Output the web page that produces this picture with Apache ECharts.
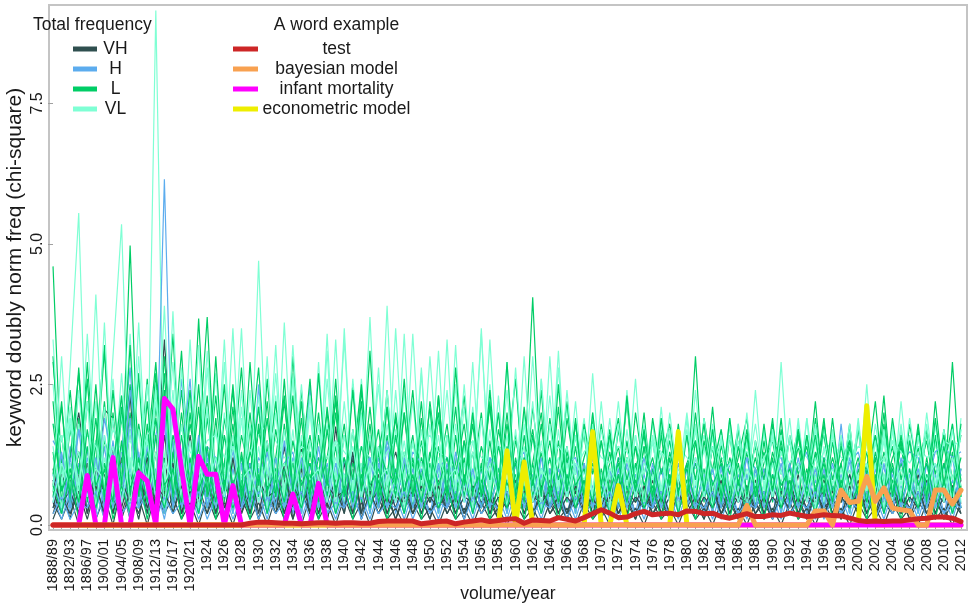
<!DOCTYPE html>
<html><head><meta charset="utf-8">
<script src="https://cdn.jsdelivr.net/npm/echarts@6/dist/echarts.min.js"></script>
<style>html,body{margin:0;padding:0;background:#fff}#c{width:973px;height:607px}</style>
</head><body><div id="c"></div>
<script>
const categories = ['1888/89','1890/91','1892/93','1894/95','1896/97','1898/99','1900/01','1902/03','1904/05','1906/07',
'1908/09','1910/11','1912/13','1914/15','1916/17','1918/19','1920/21','1922/23','1924','1925',
'1926','1927','1928','1929','1930','1931','1932','1933','1934','1935',
'1936','1937','1938','1939','1940','1941','1942','1943','1944','1945',
'1946','1947','1948','1949','1950','1951','1952','1953','1954','1955',
'1956','1957','1958','1959','1960','1961','1962','1963','1964','1965',
'1966','1967','1968','1969','1970','1971','1972','1973','1974','1975',
'1976','1977','1978','1979','1980','1981','1982','1983','1984','1985',
'1986','1987','1988','1989','1990','1991','1992','1993','1994','1995',
'1996','1997','1998','1999','2000','2001','2002','2003','2004','2005',
'2006','2007','2008','2009','2010','2011','2012'];
const yTicks = [0, 2.5, 5, 7.5];

// Total frequency groups (background keywords)
const vh1 = [0.6,0.2,1.2,2.0,0.9,0.5,2.05,1.9,0.6,2.3,
 0.3,1.1,0.8,3.3,0.9,0.4,1.6,0.3,1.1,0.2,
 0.9,0.3,0.8,0.2,0.7,1.5,0.3,1.4,0.4,1.35,
 0.2,0.8,0.3,1.75,0.4,0.9,0.2,1.5,0.3,0.8,
 1.3,0.6,0.3,0.7,0.2,0.6,0.3,0.7,0.2,0.5,
 0.3,0.6,0.2,0.5,0.3,0.7,0.2,0.6,0.3,0.5,
 0.2,0.6,0.3,0.5,0.2,0.6,0.3,0.7,0.2,0.5,
 0.3,0.6,0.2,0.5,0.3,0.6,0.2,0.7,0.3,0.6,
 0.2,0.5,0.3,0.6,0.2,0.5,0.3,0.9,0.2,0.6,
 0.3,0.5,0.2,0.6,0.3,0.9,0.2,0.5,0.3,0.6,
 0.2,0.9,0.3,0.6,0.2,0.5,0.3];
const vh2 = [0.2,0.7,0.1,0.9,0.2,0.8,0.1,1.0,0.2,0.7,
 0.1,0.9,0.3,1.2,0.2,0.8,0.1,0.7,0.2,0.9,
 0.1,0.6,0.2,0.8,0.1,0.7,0.2,0.6,0.1,0.8,
 0.2,0.6,0.1,0.7,0.2,1.0,0.1,0.6,0.2,0.6,
 0.1,0.5,0.2,0.5,0.1,0.6,0.2,0.5,0.1,0.6,
 0.2,0.4,0.1,0.5,0.2,0.4,0.1,0.6,0.2,0.4,
 0.1,0.5,0.2,0.4,0.1,0.5,0.2,0.4,0.1,0.5,
 0.2,0.4,0.1,0.5,0.2,0.4,0.1,0.6,0.2,0.4,
 0.1,0.5,0.2,0.4,0.1,0.6,0.2,0.4,0.1,0.5,
 0.2,0.4,0.1,0.5,0.2,0.6,0.1,0.4,0.2,0.5,
 0.1,0.4,0.2,0.5,0.1,0.4,0.2];
const vh3 = [0.4,0.1,0.5,0.0,0.6,0.1,0.5,0.0,0.7,0.1,
 0.5,0.0,0.6,0.2,0.5,0.1,0.4,0.0,0.5,0.1,
 0.4,0.0,0.5,0.1,0.4,0.0,0.5,0.1,0.4,0.0,
 0.5,0.1,0.4,0.0,0.5,0.1,0.4,0.0,0.5,0.1,
 0.3,0.0,0.4,0.1,0.3,0.0,0.4,0.1,0.3,0.0,
 0.4,0.1,0.3,0.0,0.4,0.1,0.3,0.0,0.4,0.1,
 0.3,0.0,0.4,0.1,0.3,0.0,0.4,0.1,0.3,0.0,
 0.4,0.1,0.3,0.0,0.4,0.1,0.3,0.0,0.4,0.1,
 0.3,0.0,0.4,0.1,0.3,0.0,0.4,0.1,0.3,0.0,
 0.4,0.1,0.3,0.0,0.4,0.1,0.3,0.0,0.4,0.1,
 0.3,0.0,0.4,0.1,0.3,0.0,0.4];
const vh4 = [1.0,0.3,0.8,0.2,1.1,0.3,0.9,0.2,1.2,0.4,
 0.9,0.2,1.3,0.4,1.0,0.2,0.9,0.3,0.8,0.2,
 1.0,0.3,0.9,0.2,0.8,0.3,1.0,0.2,0.9,0.3,
 0.8,0.2,0.9,0.3,1.1,0.2,0.8,0.3,0.9,0.2,
 0.7,0.3,0.8,0.2,0.7,0.3,0.8,0.2,0.7,0.3,
 0.8,0.2,0.7,0.3,0.8,0.2,0.7,0.3,0.8,0.2,
 0.7,0.3,0.8,0.2,0.7,0.3,0.9,0.2,0.7,0.3,
 0.8,0.2,0.7,0.3,0.8,0.2,0.7,0.3,0.8,0.2,
 0.7,0.3,0.8,0.2,0.7,0.3,0.8,0.2,0.7,0.3,
 0.8,0.2,0.7,0.3,0.8,0.2,0.7,0.3,0.8,0.2,
 0.7,0.3,0.8,0.2,0.7,0.3,0.8];
const vh5 = [0.3,0.9,0.5,1.3,0.2,1.0,0.6,1.4,0.3,0.9,
 0.5,1.2,0.3,1.6,0.4,1.1,0.2,0.9,0.5,1.0,
 0.3,0.8,0.4,1.1,0.2,0.9,0.4,0.8,0.3,1.0,
 0.2,0.9,0.4,0.8,0.3,1.2,0.2,0.8,0.4,0.7,
 0.3,0.8,0.2,0.7,0.4,0.8,0.3,0.6,0.2,0.7,
 0.4,0.6,0.3,0.8,0.2,0.6,0.4,0.7,0.3,0.6,
 0.2,0.7,0.4,0.6,0.3,0.8,0.2,0.6,0.4,0.7,
 0.3,0.6,0.2,0.8,0.4,0.6,0.3,0.7,0.2,0.6,
 0.4,0.7,0.3,0.6,0.2,0.8,0.4,0.6,0.3,0.7,
 0.2,0.6,0.4,0.9,0.3,0.6,0.2,0.7,0.4,0.6,
 0.3,0.7,0.2,0.6,0.4,0.7,0.3];
const vh6 = [0.8,0.4,0.6,0.2,0.9,0.5,0.7,0.2,0.8,0.4,
 1.0,0.3,0.7,0.5,1.1,0.2,0.6,0.4,0.8,0.2,
 0.7,0.4,0.6,0.2,0.8,0.5,0.6,0.2,0.7,0.4,
 0.6,0.2,0.7,0.5,0.6,0.2,0.8,0.4,0.6,0.2,
 0.5,0.4,0.6,0.2,0.5,0.3,0.6,0.2,0.5,0.4,
 0.6,0.2,0.5,0.3,0.6,0.2,0.5,0.4,0.6,0.2,
 0.5,0.3,0.6,0.2,0.5,0.4,0.6,0.2,0.5,0.3,
 0.6,0.2,0.5,0.4,0.6,0.2,0.5,0.3,0.6,0.2,
 0.5,0.4,0.6,0.2,0.5,0.3,0.6,0.2,0.5,0.4,
 0.6,0.2,0.5,0.3,0.6,0.2,0.5,0.4,0.6,0.2,
 0.5,0.3,0.6,0.2,0.5,0.4,0.6];
const vh7 = [0.1,0.5,0.2,0.6,0.1,0.7,0.2,0.5,0.1,0.6,
 0.2,0.8,0.1,0.6,0.2,0.7,0.1,0.5,0.2,0.6,
 0.1,1.2,0.2,0.6,0.1,0.5,0.2,1.1,0.1,0.6,
 0.2,0.5,0.1,0.7,0.2,1.3,0.1,0.6,0.2,0.5,
 0.1,0.6,0.2,0.5,0.1,0.7,0.2,0.5,0.1,0.6,
 0.2,0.5,0.1,0.6,0.2,0.5,0.1,0.7,0.2,0.5,
 0.1,0.6,0.2,0.5,0.1,0.6,0.2,0.5,0.1,0.7,
 0.2,0.5,0.1,0.6,0.2,0.5,0.1,0.6,0.2,0.5,
 0.1,0.7,0.2,0.5,0.1,0.6,0.2,0.5,0.1,0.6,
 0.2,0.5,0.1,0.7,0.2,0.5,0.1,0.6,0.2,0.5,
 0.1,0.6,0.2,0.5,0.1,0.7,0.2];

const h1 = [0.8,0.3,1.4,0.4,1.2,0.3,1.6,0.5,1.3,2.8,
 0.4,1.5,0.6,6.15,0.5,1.2,2.6,0.4,1.3,0.3,
 1.1,0.4,1.2,0.3,2.5,0.4,1.0,0.3,1.2,0.4,
 2.5,0.3,1.1,0.4,0.9,0.3,1.0,0.4,1.2,0.3,
 0.9,0.4,1.1,0.3,0.9,0.4,1.0,0.3,0.8,0.4,
 1.0,0.3,0.9,0.4,1.1,0.3,0.9,0.4,1.0,0.3,
 0.9,0.4,1.0,0.3,0.8,0.4,1.0,0.3,0.9,0.4,
 1.0,0.3,0.9,0.4,1.1,0.3,0.9,0.4,1.0,0.3,
 0.9,0.4,1.0,0.3,0.9,0.4,1.1,0.3,0.9,0.4,
 1.0,0.3,1.8,0.4,0.9,0.3,1.0,0.4,0.9,0.3,
 1.0,0.4,0.9,0.3,1.1,0.4,0.9];
const h2 = [0.3,0.9,0.2,1.1,0.3,1.0,0.2,1.3,0.4,1.0,
 0.3,1.2,0.5,1.8,0.3,0.9,0.2,1.1,0.3,0.8,
 0.2,1.0,0.3,0.9,0.2,0.8,0.3,1.0,0.2,0.9,
 0.3,1.0,0.2,0.8,0.3,0.9,0.2,0.8,0.3,1.4,
 0.2,0.8,0.3,0.7,0.2,0.9,0.3,0.7,0.2,0.8,
 0.3,0.7,0.2,0.8,0.3,0.7,0.2,0.9,0.3,0.7,
 0.2,0.8,0.3,0.7,0.2,0.8,0.3,0.7,0.2,0.9,
 0.3,0.7,0.2,0.8,0.3,0.7,0.2,0.8,0.3,0.7,
 0.2,0.9,0.3,0.7,0.2,0.8,0.3,0.7,0.2,0.8,
 0.3,0.7,0.2,0.9,0.3,1.6,0.2,0.8,0.3,0.7,
 0.2,0.8,0.3,0.9,0.2,0.8,0.3];
const h3 = [0.5,0.1,0.6,0.2,0.7,0.1,0.6,0.2,0.8,0.1,
 0.6,0.2,0.7,0.1,0.9,0.2,0.6,0.1,0.5,0.2,
 0.6,0.1,0.5,0.2,0.6,0.1,0.7,0.2,0.5,0.1,
 0.6,0.2,0.5,0.1,0.6,0.2,0.5,0.1,0.6,0.2,
 0.5,0.1,0.6,0.2,0.5,0.1,0.6,0.2,0.5,0.1,
 0.6,0.2,0.5,0.1,0.6,0.2,0.5,0.1,0.6,0.2,
 0.5,0.1,0.6,0.2,0.5,0.1,0.6,0.2,0.5,0.1,
 0.6,0.2,0.5,0.1,0.6,0.2,0.5,0.1,0.6,0.2,
 0.5,0.1,0.6,0.2,0.5,0.1,0.6,0.2,0.5,0.1,
 0.6,0.2,0.5,0.1,0.6,0.2,0.5,0.1,0.6,0.2,
 0.5,0.1,0.6,0.2,0.5,0.1,0.6];
const h4 = [1.5,1.2,0.6,1.7,1.3,0.5,1.9,1.1,0.7,2.4,
 1.2,0.6,1.6,2.2,0.8,2.6,1.0,0.5,1.4,1.2,
 0.6,1.3,1.0,0.5,1.2,0.9,0.6,1.1,1.3,0.5,
 1.0,1.2,0.6,1.1,0.9,0.5,1.0,1.2,0.6,1.5,
 0.9,0.6,1.3,1.1,0.5,1.0,1.2,0.7,1.1,0.9,
 0.6,1.2,1.0,0.5,1.1,1.3,0.6,1.0,0.9,0.5,
 1.1,1.2,0.6,1.0,0.9,0.5,1.2,1.0,0.6,1.1,
 0.9,0.5,1.0,1.2,0.6,1.1,0.9,0.5,1.0,1.1,
 0.6,1.2,1.0,0.5,1.1,1.2,0.6,1.0,1.3,0.5,
 1.2,1.0,0.6,1.1,1.3,0.7,1.2,1.0,0.6,1.1,
 1.3,1.2,0.7,1.3,1.4,1.2,1.3];
const h5 = [0.9,0.2,1.2,0.3,1.0,0.2,1.4,0.3,1.1,0.2,
 1.3,0.3,1.0,0.2,1.5,0.3,1.1,0.2,1.2,0.3,
 0.9,0.2,1.1,0.3,1.0,0.2,1.2,0.3,0.9,0.2,
 1.1,0.3,1.0,0.2,1.2,0.3,0.9,0.2,1.1,0.3,
 0.8,0.2,1.0,0.3,0.9,0.2,1.1,0.3,0.8,0.2,
 1.0,0.3,0.9,0.2,1.1,0.3,0.8,0.2,1.0,0.3,
 0.9,0.2,1.1,0.3,0.8,0.2,1.0,0.3,0.9,0.2,
 1.1,0.3,0.8,0.2,1.0,0.3,0.9,0.2,1.1,0.3,
 0.8,0.2,1.0,0.3,0.9,0.2,1.1,0.3,0.8,0.2,
 1.0,0.3,0.9,0.2,1.1,0.3,0.8,0.2,1.0,0.3,
 0.9,0.2,1.1,0.3,0.8,0.2,1.0];
const h6 = [0.4,1.3,0.3,1.7,0.5,1.2,0.3,1.5,0.4,1.9,
 0.3,1.4,0.5,2.0,0.3,1.3,0.4,1.6,0.3,1.2,
 0.5,1.4,0.3,1.1,0.4,1.3,0.3,1.5,0.5,1.2,
 0.3,1.4,0.4,1.1,0.3,1.3,0.5,1.2,0.3,1.0,
 0.4,1.2,0.3,1.0,0.5,1.1,0.3,1.3,0.4,1.0,
 0.3,1.2,0.5,1.0,0.3,1.1,0.4,1.2,0.3,1.0,
 0.5,1.1,0.3,1.2,0.4,1.0,0.3,1.1,0.5,1.2,
 0.3,1.0,0.4,1.1,0.3,1.2,0.5,1.0,0.3,1.1,
 0.4,1.2,0.3,1.0,0.5,1.1,0.3,1.2,0.4,1.0,
 0.3,1.1,0.5,1.2,0.3,1.0,0.4,1.1,0.3,1.2,
 0.5,1.0,0.3,1.1,0.4,1.2,0.3];
const h7 = [0.2,0.5,0.1,0.4,0.3,0.6,0.1,0.5,0.2,0.4,
 0.3,0.6,0.1,0.5,0.2,0.4,0.3,0.6,0.1,0.5,
 0.2,0.4,0.3,0.6,0.1,0.5,0.2,0.4,0.3,0.6,
 0.1,0.5,0.2,0.4,0.3,0.6,0.1,0.5,0.2,0.4,
 0.3,0.6,0.1,0.5,0.2,0.4,0.3,0.6,0.1,0.5,
 0.2,0.4,0.3,0.6,0.1,0.5,0.2,0.4,0.3,0.6,
 0.1,0.5,0.2,0.4,0.3,0.6,0.1,0.5,0.2,0.4,
 0.3,0.6,0.1,0.5,0.2,0.4,0.3,0.6,0.1,0.5,
 0.2,0.4,0.3,0.6,0.1,0.5,0.2,0.4,0.3,0.6,
 0.1,0.5,0.2,0.4,0.3,0.6,0.1,0.5,0.2,0.4,
 0.3,0.6,0.1,0.5,0.2,0.4,0.3];

const l1 = [4.6,0.8,2.4,0.6,2.9,0.7,2.2,0.5,0.7,4.97,
 0.8,2.6,0.6,3.0,0.9,2.4,0.7,3.67,0.8,2.3,
 0.6,2.5,0.7,2.0,0.5,2.6,0.8,2.2,0.6,2.4,
 0.7,2.0,0.5,2.3,0.6,2.5,0.7,2.1,0.6,2.4,
 0.5,2.0,0.6,2.2,0.5,1.9,0.7,2.1,0.5,2.0,
 0.6,2.2,0.5,1.8,0.6,0.9,4.05,0.7,0.6,2.1,
 0.5,1.6,0.6,1.9,0.5,1.5,0.6,2.2,0.5,1.4,
 0.6,1.7,0.5,1.5,0.6,3.0,0.5,1.4,0.6,1.8,
 0.5,1.5,0.6,1.3,0.5,1.7,0.6,1.4,0.5,1.9,
 0.6,1.5,0.5,1.6,0.6,1.3,0.5,1.8,0.6,1.4,
 0.5,1.6,0.6,1.5,0.5,2.9,0.6];
const l2 = [2.9,1.1,1.8,0.4,2.2,1.0,3.1,0.5,1.9,0.9,
 2.7,0.4,2.1,1.0,3.4,0.6,1.8,0.9,2.3,0.4,
 1.9,1.0,2.8,0.5,1.7,0.8,2.2,0.4,3.0,0.9,
 1.6,0.5,2.1,0.8,1.8,0.4,2.4,0.9,1.7,0.5,
 2.0,0.8,1.6,0.4,2.2,0.9,1.8,0.5,1.5,0.8,
 2.0,0.4,1.7,0.9,1.6,0.5,2.1,0.8,1.5,0.4,
 1.9,0.9,1.6,0.5,1.8,0.8,1.4,0.4,2.0,0.9,
 1.5,0.5,1.7,0.8,1.6,0.4,1.9,0.9,1.5,0.5,
 1.7,0.8,1.4,0.4,1.8,0.9,1.5,0.5,1.6,0.8,
 1.9,0.4,1.5,0.9,1.7,0.5,1.6,0.8,1.4,0.4,
 1.8,0.9,1.5,0.5,1.7,0.8,1.6];
const l3 = [0.5,1.6,0.3,1.9,0.4,1.5,0.3,2.0,0.5,1.7,
 0.3,1.8,0.4,2.2,0.3,1.6,0.5,1.4,0.3,1.9,
 0.4,1.5,0.3,1.7,0.5,1.4,0.3,1.8,0.4,1.5,
 0.3,1.6,0.5,1.4,0.3,1.7,0.4,1.5,0.3,1.6,
 0.5,1.3,0.3,1.5,0.4,1.4,0.3,1.6,0.5,1.3,
 0.3,1.5,0.4,1.4,0.3,1.6,0.5,1.3,0.3,1.5,
 0.4,1.4,0.3,1.6,0.5,1.3,0.3,1.5,0.4,1.4,
 0.3,1.6,0.5,1.3,0.3,1.5,0.4,1.4,0.3,1.6,
 0.5,1.3,0.3,1.5,0.4,1.4,0.3,1.6,0.5,1.3,
 0.3,1.5,0.4,1.4,0.3,1.6,0.5,1.3,0.3,1.5,
 0.4,1.4,0.3,1.6,0.5,1.3,0.3];
const l4 = [3.0,0.6,1.2,2.7,0.5,1.4,3.2,0.6,1.1,2.5,
 0.5,1.3,2.9,0.6,1.2,3.1,0.5,1.4,3.7,0.6,
 1.1,2.4,0.5,1.3,2.8,0.6,1.2,2.3,0.5,1.0,
 2.6,0.6,1.2,2.2,0.5,1.1,2.5,0.6,1.3,2.1,
 0.5,1.0,2.4,0.6,1.2,2.0,0.5,1.1,2.3,0.6,
 1.0,2.1,0.5,1.2,2.6,0.6,1.1,2.0,0.5,1.0,
 2.2,0.6,1.2,1.7,0.5,1.1,1.9,0.6,1.0,1.6,
 0.5,1.2,1.8,0.6,1.1,1.5,0.5,1.0,1.7,0.6,
 1.2,1.9,0.5,1.1,1.5,0.6,1.0,1.7,0.5,1.2,
 1.6,0.6,1.1,1.5,0.5,1.0,2.2,0.6,1.2,1.5,
 0.5,1.1,1.7,0.6,1.0,1.8,0.5];
const l5 = [1.3,0.2,1.0,0.3,1.4,0.2,1.1,0.3,1.5,0.2,
 1.2,0.3,1.6,0.2,1.3,0.3,1.2,0.2,1.4,0.3,
 1.1,0.2,1.3,0.3,1.0,0.2,1.2,0.3,1.1,0.2,
 1.3,0.3,1.0,0.2,1.2,0.3,1.1,0.2,1.3,0.3,
 1.0,0.2,1.2,0.3,1.1,0.2,1.0,0.3,1.2,0.2,
 1.1,0.3,1.0,0.2,1.2,0.3,1.1,0.2,1.0,0.3,
 1.2,0.2,1.1,0.3,1.0,0.2,1.2,0.3,1.1,0.2,
 1.0,0.3,1.2,0.2,1.1,0.3,1.0,0.2,1.2,0.3,
 1.1,0.2,1.0,0.3,1.2,0.2,1.1,0.3,1.0,0.2,
 1.2,0.3,1.1,0.2,1.0,0.3,1.2,0.2,1.1,0.3,
 1.0,0.2,1.2,0.3,1.1,0.2,1.0];
const l6 = [0.7,2.2,0.4,1.3,0.6,2.5,0.4,1.2,0.7,2.0,
 0.5,1.3,0.6,2.4,0.4,1.1,0.7,2.1,0.5,1.2,
 0.6,1.8,0.4,1.3,0.7,2.2,0.5,1.0,0.6,1.9,
 0.4,1.2,0.7,2.6,0.5,1.1,0.6,1.8,0.4,1.0,
 0.7,2.0,0.5,1.2,0.6,2.3,0.4,1.0,0.7,1.8,
 0.5,1.1,0.6,2.0,0.4,1.2,0.7,2.4,0.5,1.0,
 0.6,1.9,0.4,1.1,0.7,1.7,0.5,1.2,0.6,2.0,
 0.4,1.0,0.7,1.8,0.5,1.1,0.6,2.1,0.4,1.2,
 0.7,1.7,0.5,1.0,0.6,1.9,0.4,1.1,0.7,2.2,
 0.5,1.2,0.6,1.8,0.4,1.0,0.7,2.3,0.5,1.1,
 0.6,1.7,0.4,2.2,0.7,1.5,0.8];
const l7 = [2.2,0.4,1.7,0.9,2.6,0.4,1.5,1.0,2.3,0.5,
 1.8,0.9,2.7,0.4,1.6,1.0,2.4,0.5,1.9,0.8,
 2.5,0.4,1.6,0.9,2.1,0.5,1.7,0.8,2.3,0.4,
 1.5,0.9,2.0,0.5,1.6,0.8,2.2,0.4,1.4,0.9,
 1.9,0.5,1.5,0.8,2.1,0.4,1.6,0.9,1.8,0.5,
 1.4,0.8,2.0,0.4,1.5,0.9,1.7,0.5,1.9,0.8,
 1.4,0.4,1.8,0.9,1.5,0.5,1.7,0.8,1.4,0.4,
 1.9,0.9,1.5,0.5,1.6,0.8,1.8,0.4,1.4,0.9,
 1.7,0.5,1.5,0.8,1.9,0.4,1.6,0.9,1.4,0.5,
 1.8,0.8,1.5,0.4,1.7,0.9,1.6,0.5,1.9,0.8,
 1.5,0.4,1.7,0.9,1.6,0.5,1.8];
const l8 = [1.8,0.6,1.0,0.4,1.7,0.7,1.1,0.4,2.1,0.6,
 1.2,0.4,1.9,0.7,1.0,0.4,2.0,0.6,1.1,0.4,
 1.6,0.7,1.2,0.4,1.8,0.6,1.0,0.4,1.5,0.7,
 1.1,0.4,1.7,0.6,1.2,0.4,1.4,0.7,1.0,0.4,
 1.6,0.6,1.1,0.4,1.3,0.7,1.2,0.4,1.5,0.6,
 1.0,0.4,1.4,0.7,1.1,0.4,1.6,0.6,1.2,0.4,
 1.3,0.7,1.0,0.4,1.5,0.6,1.1,0.4,1.4,0.7,
 1.2,0.4,1.3,0.6,1.0,0.4,1.5,0.7,1.1,0.4,
 1.4,0.6,1.2,0.4,1.3,0.7,1.0,0.4,1.6,0.6,
 1.1,0.4,1.4,0.7,1.2,0.4,1.3,0.6,1.0,0.4,
 1.5,0.7,1.1,0.4,1.4,0.6,1.2];
const l9 = [0.7,0.2,0.9,0.1,0.8,0.3,1.0,0.1,0.7,0.2,
 0.9,0.1,0.8,0.3,1.0,0.1,0.7,0.2,0.9,0.1,
 0.8,0.3,0.7,0.1,0.9,0.2,0.8,0.1,0.7,0.3,
 0.9,0.1,0.8,0.2,0.7,0.1,0.9,0.3,0.8,0.1,
 0.7,0.2,0.9,0.1,0.8,0.3,0.7,0.1,0.9,0.2,
 0.8,0.1,0.7,0.3,0.9,0.1,0.8,0.2,0.7,0.1,
 0.9,0.3,0.8,0.1,0.7,0.2,0.9,0.1,0.8,0.3,
 0.7,0.1,0.9,0.2,0.8,0.1,0.7,0.3,0.9,0.1,
 0.8,0.2,0.7,0.1,0.9,0.3,0.8,0.1,0.7,0.2,
 0.9,0.1,0.8,0.3,0.7,0.1,0.9,0.2,0.8,0.1,
 0.7,0.3,0.9,0.1,0.8,0.2,0.7];
const l10 = [0.9,2.1,0.5,2.8,0.6,1.9,0.5,2.4,0.7,3.2,
 0.5,2.2,0.6,2.7,0.5,2.0,0.7,2.5,0.5,3.0,
 0.6,2.1,0.5,2.9,0.7,1.9,0.5,2.6,0.6,2.2,
 0.5,2.7,0.7,2.0,0.5,2.4,0.6,3.1,0.5,2.1,
 0.7,2.6,0.5,1.9,0.6,2.3,0.5,2.8,0.7,2.0,
 0.5,2.4,0.6,2.9,0.5,2.1,0.7,1.8,0.5,2.5,
 0.6,1.8,0.5,2.0,0.7,1.6,0.5,2.3,0.6,1.7,
 0.5,1.9,0.7,1.5,0.5,2.0,0.6,1.7,0.5,1.9,
 0.7,1.6,0.5,1.8,0.6,1.5,0.5,1.7,0.7,1.6,
 0.5,1.9,0.6,1.5,0.5,1.7,0.7,2.0,0.5,1.6,
 0.6,1.8,0.5,1.9,0.7,1.5,0.5];

const vl1 = [1.2,0.4,2.8,5.55,0.5,2.2,0.6,3.0,5.35,0.7,
 2.6,0.5,9.15,0.6,2.4,0.5,3.3,0.6,2.0,0.5,
 2.9,0.6,2.1,0.5,4.7,0.6,2.3,0.5,2.7,0.6,
 2.0,0.5,3.4,0.6,2.2,0.5,2.6,0.6,0.6,3.9,
 0.5,2.4,0.6,2.8,0.5,2.0,0.6,3.2,0.5,2.1,
 0.6,2.5,0.5,2.9,0.6,2.0,0.5,2.6,0.6,3.1,
 0.5,1.8,0.6,2.0,0.5,1.6,0.6,2.3,0.5,1.7,
 0.6,1.9,0.5,1.5,0.6,1.8,0.5,1.6,0.6,1.9,
 0.5,1.5,0.6,1.7,0.5,2.9,0.6,1.6,0.5,1.8,
 0.6,1.5,0.5,1.7,0.6,2.5,0.5,1.6,0.6,1.8,
 0.5,1.7,0.6,1.5,0.5,1.8,0.6];
const vl2 = [2.5,0.8,1.9,0.7,3.4,0.9,2.1,0.6,2.7,0.8,
 3.6,0.7,2.2,0.9,2.9,0.6,2.4,0.8,3.1,0.7,
 2.0,0.9,3.5,0.6,2.3,0.8,2.7,0.7,3.2,0.9,
 2.1,0.6,2.6,0.8,3.3,0.7,2.0,0.9,2.5,0.6,
 3.5,0.8,2.2,0.7,3.0,0.9,2.4,0.6,2.1,0.8,
 3.4,0.7,2.0,0.9,2.6,0.6,3.0,0.8,2.3,0.7,
 2.1,0.9,1.9,0.6,1.7,0.8,2.2,0.7,1.6,0.9,
 1.8,0.6,1.5,0.8,2.0,0.7,1.6,0.9,1.7,0.6,
 1.5,0.8,1.8,0.7,1.6,0.9,1.5,0.6,1.9,0.8,
 1.6,0.7,1.5,0.9,1.7,0.6,1.8,0.8,1.5,0.7,
 1.9,0.9,1.6,0.6,1.5,0.8,1.7];
const vl3 = [0.6,1.6,0.4,1.8,0.5,1.5,0.4,1.9,0.6,1.7,
 0.4,1.6,0.5,2.1,0.4,1.8,0.6,1.5,0.4,1.7,
 0.5,1.6,0.4,1.8,0.6,1.5,0.4,1.7,0.5,1.6,
 0.4,1.8,0.6,1.5,0.4,1.7,0.5,1.6,0.4,1.8,
 0.6,1.5,0.4,1.7,0.5,1.6,0.4,1.8,0.6,1.5,
 0.4,1.7,0.5,1.6,0.4,1.8,0.6,1.5,0.4,1.7,
 0.5,1.6,0.4,1.8,0.6,1.5,0.4,1.7,0.5,1.6,
 0.4,1.8,0.6,1.5,0.4,1.7,0.5,1.6,0.4,1.8,
 0.6,1.5,0.4,1.7,0.5,1.6,0.4,1.8,0.6,1.5,
 0.4,1.7,0.5,1.6,0.4,1.8,0.6,1.5,0.4,1.7,
 0.5,1.6,0.4,1.8,0.6,1.5,0.4];
const vl4 = [1.8,1.5,1.9,1.2,1.6,1.4,1.0,1.7,1.3,1.5,
 1.1,1.6,1.8,1.2,1.4,1.7,1.3,1.1,1.5,1.6,
 1.2,1.4,1.0,1.3,1.6,1.8,1.5,1.2,1.1,1.4,
 1.3,1.0,1.2,1.5,1.3,1.1,1.4,1.2,1.0,1.3,
 1.5,1.2,1.1,1.4,1.6,1.3,1.2,1.0,1.3,1.5,
 1.2,1.1,1.4,1.3,1.0,1.2,1.5,1.3,1.1,1.4,
 1.2,1.0,1.3,1.5,1.2,1.1,1.4,1.3,1.0,1.2,
 1.5,1.3,1.1,1.4,1.2,1.0,1.3,1.5,1.2,1.1,
 1.4,1.3,1.0,1.2,1.5,1.3,1.1,1.4,1.2,1.0,
 1.3,1.5,1.2,1.1,1.4,1.3,1.0,1.2,1.5,1.3,
 1.1,1.4,1.2,1.3,1.5,1.4,1.5];
const vl5 = [0.9,0.2,1.1,0.3,1.0,0.2,1.2,0.3,0.9,0.2,
 1.1,0.3,1.3,0.2,1.0,0.3,0.9,0.2,1.1,0.3,
 1.0,0.2,0.9,0.3,1.1,0.2,1.0,0.3,0.9,0.2,
 1.1,0.3,1.0,0.2,0.9,0.3,1.1,0.2,1.0,0.3,
 0.9,0.2,1.1,0.3,1.0,0.2,0.9,0.3,1.1,0.2,
 1.0,0.3,0.9,0.2,1.1,0.3,1.0,0.2,0.9,0.3,
 1.1,0.2,1.0,0.3,0.9,0.2,1.1,0.3,1.0,0.2,
 0.9,0.3,1.1,0.2,1.0,0.3,0.9,0.2,1.1,0.3,
 1.0,0.2,0.9,0.3,1.1,0.2,1.0,0.3,0.9,0.2,
 1.1,0.3,1.0,0.2,0.9,0.3,1.1,0.2,1.0,0.3,
 0.9,0.2,1.1,0.3,1.0,0.2,0.9];
const vl6 = [3.3,0.7,2.1,0.5,2.6,0.6,3.6,0.5,2.3,0.7,
 3.0,0.6,2.5,0.7,3.8,0.5,2.2,0.6,2.8,0.7,
 3.3,0.5,2.4,0.6,2.1,0.7,3.2,0.5,2.6,0.6,
 2.3,0.7,3.1,0.5,3.5,0.6,2.2,0.7,2.8,0.5,
 2.4,0.6,3.4,0.7,2.1,0.5,3.3,0.6,2.5,0.7,
 3.5,0.5,2.3,0.6,2.8,0.7,2.2,0.5,3.0,0.6,
 2.4,0.7,1.8,0.5,2.2,0.6,1.7,0.7,2.6,0.5,
 1.6,0.6,2.0,0.7,1.7,0.5,1.9,0.6,1.5,0.7,
 1.8,0.5,2.4,0.6,1.6,0.7,1.9,0.5,1.5,0.6,
 1.7,0.7,1.6,0.5,1.9,0.6,1.5,0.7,1.8,0.5,
 1.6,0.6,2.0,0.7,1.7,0.5,1.9];
const vl7 = [1.4,0.3,1.8,0.4,2.2,0.3,1.6,0.4,2.0,0.3,
 1.7,0.4,2.4,0.3,1.9,0.4,1.5,0.3,2.1,0.4,
 1.6,0.3,1.9,0.4,1.4,0.3,2.0,0.4,1.7,0.3,
 1.5,0.4,1.8,0.3,1.6,0.4,1.9,0.3,1.4,0.4,
 1.7,0.3,1.5,0.4,1.8,0.3,1.6,0.4,1.4,0.3,
 1.9,0.4,1.5,0.3,1.7,0.4,1.6,0.3,1.8,0.4,
 1.4,0.3,1.7,0.4,1.5,0.3,1.8,0.4,1.6,0.3,
 1.5,0.4,1.7,0.3,1.9,0.4,1.4,0.3,1.6,0.4,
 1.8,0.3,1.5,0.4,1.7,0.3,1.6,0.4,1.9,0.3,
 1.4,0.4,1.6,0.3,1.8,0.4,1.5,0.3,1.7,0.4,
 1.6,0.3,1.8,0.4,1.5,0.3,1.7];
const vl8 = [0.6,3.0,0.5,2.4,0.7,4.1,0.5,2.6,0.6,3.4,
 0.5,2.5,0.7,3.9,0.5,2.8,0.6,3.2,0.5,2.7,
 0.7,3.5,0.5,2.4,0.6,3.0,0.5,3.6,0.7,2.5,
 0.5,2.9,0.6,3.3,0.5,2.6,0.7,3.7,0.5,2.4,
 0.6,3.4,0.5,2.7,0.7,3.1,0.5,2.5,0.6,2.9,
 0.5,3.3,0.7,2.4,0.5,3.0,0.6,2.6,0.5,2.8,
 0.7,2.2,0.5,2.7,0.6,1.9,0.5,2.4,0.7,1.8,
 0.5,2.1,0.6,1.7,0.5,2.4,0.7,1.8,0.5,1.6,
 0.6,2.0,0.5,1.7,0.7,1.6,0.5,1.9,0.6,1.7,
 0.5,1.6,0.7,1.8,0.5,1.5,0.6,1.7,0.5,2.2,
 0.7,1.6,0.5,1.8,0.6,1.7,0.5];
const vl9 = [0.4,1.1,0.7,1.3,0.5,1.0,0.8,1.4,0.4,1.2,
 0.7,1.5,0.5,1.1,0.8,1.3,0.4,1.0,0.7,1.2,
 0.5,1.4,0.8,1.0,0.4,1.2,0.7,1.1,0.5,1.3,
 0.8,1.0,0.4,1.2,0.7,1.4,0.5,1.1,0.8,1.0,
 0.4,1.3,0.7,1.1,0.5,1.2,0.8,1.0,0.4,1.3,
 0.7,1.1,0.5,1.2,0.8,1.4,0.4,1.0,0.7,1.2,
 0.5,1.1,0.8,1.3,0.4,1.0,0.7,1.2,0.5,1.1,
 0.8,1.3,0.4,1.0,0.7,1.2,0.5,1.4,0.8,1.1,
 0.4,1.0,0.7,1.2,0.5,1.3,0.8,1.1,0.4,1.2,
 0.7,1.0,0.5,1.3,0.8,1.1,0.4,1.2,0.7,1.0,
 0.5,1.3,0.8,1.1,0.4,1.2,0.7];

// Word examples
const infantMortality = [0,0,0,0,0.88,0,0,1.2,0,0,
 0.93,0.78,0,2.25,2.06,1.0,0,1.22,0.9,0.9,
 0,0.7,0,0,0,0,0,0,0.55,0,
 0,0.74,0,0,0,0,0,0,0,0,
 0,0,0,0,0,0,0,0,0,0,
 0,0,0,0,0,0,0,0,0,0,
 0,0,0,0,0,0,0,0,0,0,
 0,0,0,0,0,0,0,0,0,0,
 0,0,0,0,0,0,0,0,0,0,
 0,0,0,0,0,0,0,0,0,0,
 0,0,0,0,0,0,0];
const econometricModel = [0,0,0,0,0,0,0,0,0,0,
 0,0,0,0,0,0,0,0,0,0,
 0,0,0,0,0,0,0,0,0,0,
 0,0,0,0,0,0,0,0,0,0,
 0,0,0,0,0,0,0,0,0,0,
 0,0,0,1.32,0,1.12,0,0,0,0,
 0,0,0,1.66,0,0,0.7,0,0,0,
 0,0,0,1.66,0,0,0,0,0,0,
 0,0,0,0,0,0,0,0,0,0,
 0,0,0,0,0,2.12,0,0,0,0,
 0,0,0,0,0,0,0];
const bayesianModel = [0,0,0,0,0,0,0,0,0,0,
 0,0,0,0,0,0,0,0,0,0,
 0,0,0,0,0,0,0,0,0,0,
 0,0,0,0,0,0,0,0,0,0,
 0,0,0,0,0,0,0,0,0,0,
 0,0,0,0,0,0,0,0,0,0,
 0,0,0,0,0,0,0,0,0,0,
 0,0,0,0,0,0,0,0,0,0,
 0,0.35,0,0,0,0,0,0,0,0.25,
 0.25,0,0.62,0.4,0.42,0.86,0.42,0.66,0.3,0.27,
 0.25,0,0,0.62,0.62,0.37,0.62];
const test = [0,0,0,0,0,0,0,0,0,0,
 0,0,0,0,0,0,0,0,0,0,
 0,0,0,0.03,0.05,0.05,0.04,0.03,0.03,0.02,
 0.03,0.04,0.04,0.03,0.04,0.04,0.03,0.03,0.06,0.07,
 0.07,0.07,0.07,0.02,0.04,0.06,0.07,0.02,0.05,0.07,
 0.09,0.06,0.08,0.1,0.11,0.03,0.09,0.08,0.07,0.13,
 0.1,0.07,0.13,0.2,0.27,0.21,0.13,0.14,0.2,0.24,
 0.18,0.2,0.21,0.18,0.25,0.24,0.2,0.21,0.15,0.12,
 0.16,0.2,0.15,0.15,0.18,0.17,0.21,0.18,0.15,0.16,
 0.18,0.17,0.16,0.12,0.08,0.06,0.07,0.06,0.07,0.07,
 0.09,0.11,0.12,0.14,0.14,0.12,0.06];

const groupColors = {VH:'#2F4F4F', H:'#5CACEE', L:'#00CD66', VL:'#7FFFD4'};
const groups = [
  ['VH', [vh1, vh2, vh3, vh4, vh5, vh6, vh7]],
  ['L', [l1, l2, l3, l4, l5, l6, l7, l8, l9, l10]],
  ['VL', [vl1, vl2, vl3, vl4, vl5, vl6, vl7, vl8, vl9]],
  ['H', [h1, h2, h3, h4, h5, h6, h7]]
];
const words = [
  ['econometric model', econometricModel, '#EEEE00'],
  ['infant mortality', infantMortality, '#FF00FF'],
  ['bayesian model', bayesianModel, '#F8A150'],
  ['test', test, '#CD2626']
];

const toPairs = arr => arr.map((v, i) => [i, v]);
const series = [];
// keywords are drawn interleaved across the frequency groups
const maxLines = Math.max(...groups.map(g => g[1].length));
for (let k = 0; k < maxLines; k++) {
  groups.forEach(([g, lines]) => {
    if (k < lines.length) series.push({
      name: g + (k + 1), type: 'line', data: toPairs(lines[k]), showSymbol: false, symbol: 'none',
      silent: true, lineStyle: {color: groupColors[g], width: 1.2}
    });
  });
}
words.forEach(([name, arr, color]) => series.push({
  name, type: 'line', data: toPairs(arr), showSymbol: false, symbol: 'none', silent: true,
  lineStyle: {color, width: 5, join: 'round', cap: 'round'}
}));

const allIdx = categories.map((c, i) => i);
const evenIdx = allIdx.filter(i => i % 2 === 0);
const FONT = 'Liberation Sans';
const TXT = '#1a1a1a';

const legendRows = [49, 69, 89, 109];
const leftItems = [['VH', groupColors.VH], ['H', groupColors.H], ['L', groupColors.L], ['VL', groupColors.VL]];
const rightItems = [['test', '#CD2626'], ['bayesian model', '#F8A150'], ['infant mortality', '#FF00FF'], ['econometric model', '#EEEE00']];
const graphic = [
  {type:'text', x:33, y:25, style:{text:'Total frequency', fontSize:17.5, fontFamily:FONT, fill:TXT, align:'left', verticalAlign:'middle'}},
  {type:'text', x:336.5, y:25, style:{text:'A word example', fontSize:17.5, fontFamily:FONT, fill:TXT, align:'center', verticalAlign:'middle'}}
];
leftItems.forEach(([t, c], k) => {
  graphic.push({type:'line', shape:{x1:73, y1:legendRows[k], x2:97, y2:legendRows[k]}, style:{stroke:c, lineWidth:5}});
  graphic.push({type:'text', x:115.5, y:legendRows[k], style:{text:t, fontSize:17.5, fontFamily:FONT, fill:TXT, align:'center', verticalAlign:'middle'}});
});
rightItems.forEach(([t, c], k) => {
  graphic.push({type:'line', shape:{x1:233, y1:legendRows[k], x2:258, y2:legendRows[k]}, style:{stroke:c, lineWidth:5}});
  graphic.push({type:'text', x:336.5, y:legendRows[k], style:{text:t, fontSize:17.5, fontFamily:FONT, fill:TXT, align:'center', verticalAlign:'middle'}});
});

const chart = echarts.init(document.getElementById('c'), null, {renderer:'canvas'});
chart.setOption({
  animation: false,
  backgroundColor: '#ffffff',
  textStyle: {fontFamily: FONT},
  grid: {left:49, right:6, top:5, bottom:77, containLabel:false, outerBoundsMode:'none',
         show:true, borderColor:'#c4c4c4', borderWidth:2, backgroundColor:'transparent'},
  xAxis: {
    type:'value', min:-0.47, max:106.7,
    axisLine:{show:false}, splitLine:{show:false},
    axisTick:{show:true, customValues: allIdx, length:4, lineStyle:{color:'#a0a0a0'}},
    axisLabel:{customValues: evenIdx, rotate:90, formatter: v => categories[v], fontSize:14.5, color:TXT, margin:9, fontFamily:FONT},
    name:'volume/year', nameLocation:'middle', nameGap:55, nameMoveOverlap:false,
    nameTextStyle:{fontSize:17.5, color:TXT, fontFamily:FONT}
  },
  yAxis: {
    type:'value', min:-0.09, max:9.25,
    axisLine:{show:false}, splitLine:{show:false},
    axisTick:{show:true, customValues: yTicks, length:5, lineStyle:{color:'#a0a0a0'}},
    axisLabel:{customValues: yTicks, rotate:90, formatter: v => v.toFixed(1), fontSize:16, color:TXT, margin:3, fontFamily:FONT},
    name:'keyword doubly norm freq (chi-square)', nameLocation:'middle', nameGap:23, nameRotate:90, nameMoveOverlap:false,
    nameTextStyle:{fontSize:21, color:TXT, fontFamily:FONT}
  },
  graphic,
  series
});
</script></body></html>
